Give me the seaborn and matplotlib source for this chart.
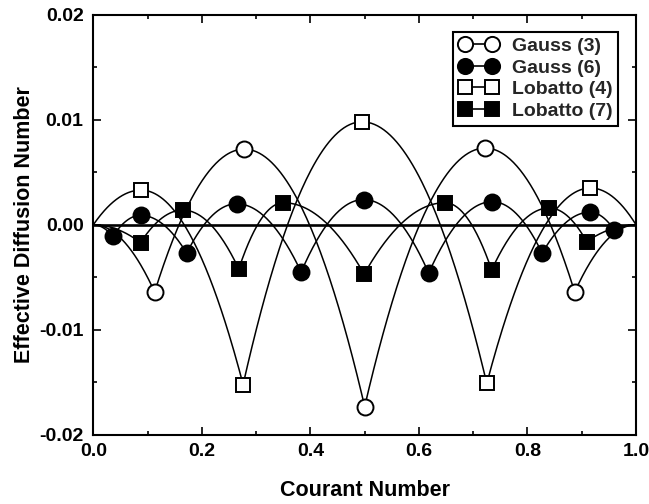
import numpy as np
import pandas as pd
import matplotlib
matplotlib.use("Agg")
import matplotlib.pyplot as plt
from matplotlib.lines import Line2D
from matplotlib.ticker import MultipleLocator
import seaborn as sns

# Marker positions (Courant number) and effective diffusion values per scheme
gauss3_x = [0.113, 0.278, 0.500, 0.722, 0.887]
gauss3_y = [-0.0064, 0.0072, -0.0173, 0.0073, -0.0064]

gauss6_x = [0.036, 0.087, 0.172, 0.264, 0.383, 0.498, 0.618, 0.735, 0.827, 0.915, 0.960]
gauss6_y = [-0.0011, 0.0009, -0.0027, 0.0020, -0.0045, 0.0024, -0.0046, 0.0022, -0.0027, 0.0012, -0.0005]

lobatto4_x = [0.088, 0.276, 0.495, 0.725, 0.916]
lobatto4_y = [0.0033, -0.0152, 0.0098, -0.0151, 0.0035]

lobatto7_x = [0.087, 0.165, 0.268, 0.350, 0.499, 0.648, 0.734, 0.840, 0.909]
lobatto7_y = [-0.0017, 0.0014, -0.0042, 0.0021, -0.0047, 0.0021, -0.0043, 0.0016, -0.0016]

series_names = ["Gauss (3)", "Gauss (6)", "Lobatto (4)", "Lobatto (7)"]
x_ticks = [0.0, 0.2, 0.4, 0.6, 0.8, 1.0]
y_ticks = [-0.02, -0.01, 0.00, 0.01, 0.02]

sns.set_theme(style="ticks")
plt.rcParams["font.family"] = ["Liberation Sans", "DejaVu Sans"]
plt.rcParams["font.weight"] = "bold"


def arch_curve(xs, ys, n=80):
    """Smooth arches through alternating peak / trough points, pinned to 0 at both ends."""
    kx = [0.0] + list(xs) + [1.0]
    ky = [0.0] + list(ys) + [0.0]
    cx, cy = [], []
    for i in range(len(kx) - 1):
        x0, y0, x1, y1 = kx[i], ky[i], kx[i + 1], ky[i + 1]
        if y0 >= y1:
            xp, yp, xn, yn = x0, y0, x1, y1
        else:
            xp, yp, xn, yn = x1, y1, x0, y0
        seg = np.linspace(x0, x1, n)
        cx.extend(seg)
        cy.extend(yp - (yp - yn) * ((seg - xp) / (xn - xp)) ** 2)
    return np.array(cx), np.array(cy)


styles = {
    "Gauss (3)": dict(marker="o", mfc="white", ms=11.5),
    "Gauss (6)": dict(marker="o", mfc="black", ms=11.5),
    "Lobatto (4)": dict(marker="s", mfc="white", ms=10.0),
    "Lobatto (7)": dict(marker="s", mfc="black", ms=10.0),
}
data = {
    "Gauss (3)": (gauss3_x, gauss3_y),
    "Gauss (6)": (gauss6_x, gauss6_y),
    "Lobatto (4)": (lobatto4_x, lobatto4_y),
    "Lobatto (7)": (lobatto7_x, lobatto7_y),
}

fig = plt.figure(figsize=(6.49, 5.04), dpi=100)
ax = fig.add_axes([0.1438, 0.137, 0.8362, 0.834])

ax.axhline(0, color="black", lw=1.9, zorder=2)

handles = []
for name in series_names:
    xs, ys = data[name]
    cx, cy = arch_curve(xs, ys)
    curve = pd.DataFrame({"x": cx, "y": cy})
    sns.lineplot(data=curve, x="x", y="y", sort=False, color="black", lw=1.1,
                 ax=ax, zorder=3, legend=False)
    st = styles[name]
    pts = pd.DataFrame({"x": xs, "y": ys})
    ax.plot(pts["x"], pts["y"], ls="none", marker=st["marker"], ms=st["ms"],
            mfc=st["mfc"], mec="black", mew=1.4, zorder=5)
    handles.append(Line2D([0], [0], color="black", lw=1.2, marker=st["marker"],
                          ms=st["ms"] * 0.95, mfc=st["mfc"], mec="black", mew=1.4))

ax.set_xlim(0, 1)
ax.set_ylim(-0.02, 0.02)
ax.set_xticks(x_ticks)
ax.set_xticklabels([f"{t:.1f}" for t in x_ticks])
ax.set_yticks(y_ticks)
ax.set_yticklabels([f"{t:.2f}" for t in y_ticks])
ax.xaxis.set_minor_locator(MultipleLocator(0.1))
ax.yaxis.set_minor_locator(MultipleLocator(0.005))
ax.tick_params(which="both", direction="in", top=True, right=True, color="black",
               width=1.2, labelsize=14, colors="black")
ax.tick_params(which="major", length=5.5)
ax.tick_params(which="minor", length=3)
ax.tick_params(axis="y", pad=7)
ax.tick_params(axis="x", pad=6)
for sp in ax.spines.values():
    sp.set_visible(True)
    sp.set_color("black")
    sp.set_linewidth(1.5)

ax.set_xlabel("Courant Number", fontsize=15.5, fontweight="bold", labelpad=14, color="black")
ax.set_ylabel("Effective Diffusion Number", fontsize=15.5, fontweight="bold", labelpad=3, color="black")

leg = ax.legend(handles, series_names, loc="upper right", bbox_to_anchor=(0.967, 0.959),
                numpoints=2, handlelength=2.0, handletextpad=0.7, labelspacing=0.2,
                borderpad=0.3, borderaxespad=0.0, frameon=True, fancybox=False,
                prop={"size": 14, "weight": "bold"})
leg.get_frame().set_edgecolor("black")
leg.get_frame().set_linewidth(1.5)
leg.get_frame().set_facecolor("white")
leg.get_frame().set_alpha(1)

fig.savefig("out.png", dpi=100, facecolor="white")
